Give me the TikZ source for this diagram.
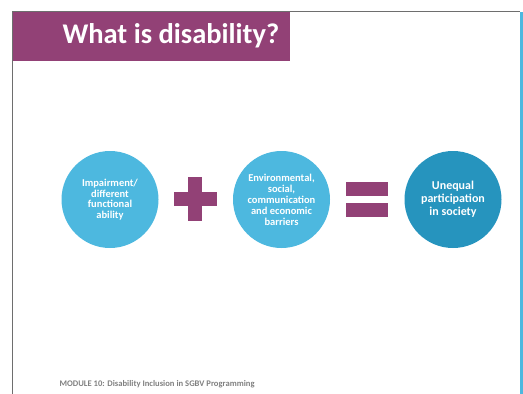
\documentclass[tikz,border=0pt]{standalone}
\usepackage{fontspec}
\setmainfont{Carlito}
\usetikzlibrary{positioning}
\definecolor{Plum}{HTML}{924176}
\definecolor{SkyBlue}{HTML}{4DB8DF}
\definecolor{DeepBlue}{HTML}{2694BE}
\definecolor{FrameGray}{HTML}{6E6E6E}
\definecolor{FootGray}{HTML}{808080}
\tikzset{
  ideacircle/.style={
    circle, fill=SkyBlue, minimum size=97pt, inner sep=0pt,
    text=white, align=center, font=\bfseries\fontsize{10.5}{10.6}\selectfont
  },
  resultcircle/.style={
    ideacircle, fill=DeepBlue, font=\bfseries\fontsize{12}{13}\selectfont
  },
  signbar/.style={fill=Plum, draw=none},
}
\begin{document}
\begin{tikzpicture}[x=1pt, y=-1pt]
    \useasboundingbox (0,0) rectangle (523,394);
    % slide frame
    \draw[FrameGray, line width=1.4pt] (12.5,394) -- (12.5,11.5) -- (520,11.5);
    \fill[SkyBlue] (520,12) rectangle (523,394);
    % title banner
    \fill[Plum] (13,12) rectangle (290,61);
    \node[font=\bfseries\fontsize{28.5}{30}\selectfont, text=white, anchor=west] (title) at (59,36) {What is disability?};
    % the equation
    \node[ideacircle] (impair) at (110,199.5) {Impairment/\\different\\functional\\ability};
    \node[ideacircle, font=\bfseries\fontsize{10.5}{11}\selectfont] (barrier) at (281.5,199.5) {Environmental,\\social,\\communication\\and economic\\barriers};
    \node[resultcircle] (unequal) at (453,199.5) {Unequal\\participation\\in society};
    % plus sign
    \fill[signbar] (188,177) rectangle (202,221);
    \fill[signbar] (174,192) rectangle (217,206);
    % equals sign
    \fill[signbar] (346,182) rectangle (388,196);
    \fill[signbar] (346,203) rectangle (388,217);
    % footer
    \node[font=\bfseries\fontsize{8.6}{10}\selectfont, text=FootGray, anchor=west] (footer) at (56,384) {MODULE 10: Disability Inclusion in SGBV Programming};
  \end{tikzpicture}
\end{document}
